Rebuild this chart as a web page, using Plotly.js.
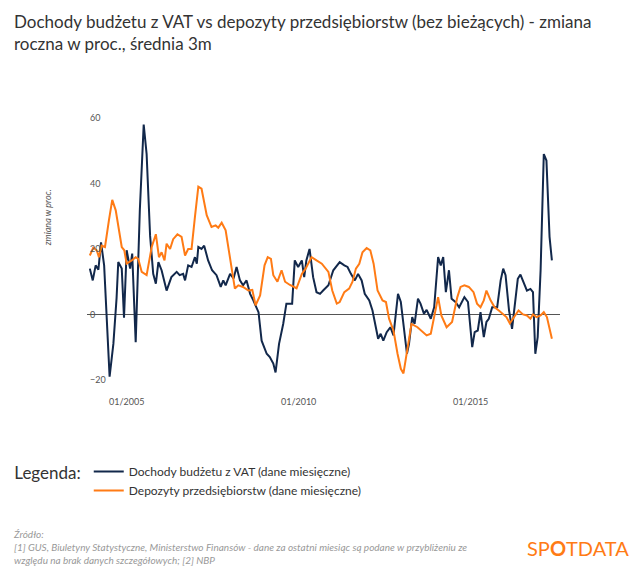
<!DOCTYPE html>
<html>
<head>
<meta charset="utf-8">
<script src="https://cdn.plot.ly/plotly-3.0.1.min.js"></script>
<style>body{margin:0;background:#fff}#chart{width:640px;height:585px}</style>
</head>
<body>
<div id="chart"></div>
<script>
// months counted from 01/2004
var vatMonths = [-0.8,0.2,1.2,2.2,3.1,4.2,6.1,7.4,8.5,9.1,10.3,11.1,12.0,13.2,14.0,15.2,16.7,18.0,19.0,20.2,21.3,22.2,23.1,24.2,26.0,27.7,29.5,30.6,31.8,32.4,33.5,34.7,35.9,36.5,37.0,38.2,39.1,40.5,41.9,43.4,44.9,45.8,46.6,48.1,49.3,50.4,51.6,52.7,53.9,55.1,56.2,58.0,59.1,60.9,62.0,63.2,64.0,65.2,66.7,67.8,69.8,70.7,71.9,73.1,74.0,74.8,75.9,77.1,78.3,79.5,80.6,82.4,84.1,86.4,
  88.0,89.1,90.3,91.7,92.8,94.0,95.1,96.7,97.8,99.0,99.8,100.7,101.6,102.8,104.0,105.1,105.9,106.7,107.7,108.6,109.8,110.6,111.7,112.5,113.7,114.6,115.8,116.7,118.1,119.3,120.7,121.6,122.5,123.4,124.5,125.4,126.8,128.0,129.9,131.1,132.6,133.4,134.6,135.5,136.7,137.6,138.4,139.6,141.3,142.5,143.4,144.2,145.4,146.5,147.7,148.5,149.4,150.6,151.7,152.9,153.8,154.6,155.4,156.4,157.5,158.5,159.6,160.4];
var vatValues = [14,10.4,15,13.7,22,15,-19,-9,5,16,14,-1,19.6,14,18.6,-8.5,32,58,49,24,12.4,9.4,16,13.5,7.3,11.4,13,12,12.4,10.4,15,14.5,17.5,15.5,20.6,20,21,16.5,13.5,12,8.4,10.4,8.9,12.4,11,14.5,10.4,8.9,10.4,6.3,4.3,0.7,-8,-12,-13,-15,-17.7,-9,-2.9,3.3,3.3,16.5,14.5,16.5,11.4,16.5,20,11.4,6.8,6.3,7.3,8.9,13.5,16,
  15,14.5,12.4,10.4,12.4,10.4,6.3,4.3,1.2,-3.9,-7.4,-5.9,-8,-5.4,-3.9,-6.4,-0.8,6.3,3.8,-3.9,-12,-9,-0.8,-2.9,4.8,3.3,0.2,1.4,-1.3,2.2,17.5,15,17.5,6.8,13.5,4.8,3.8,2.2,5.3,3.8,-10,-5.4,-4.9,0.7,-6.9,-2.3,-1.3,2.2,2.2,10.4,14,12,1.2,-4.4,5.3,10.9,12.2,9.4,7.3,7.8,6.8,-12,-6.9,13.5,49,47,23.7,16.5];

var depMonths = [-0.8,0.4,1.6,2.4,3.3,4.5,5.9,7.0,8.2,9.4,10.3,11.2,12.0,13.8,15.2,16.1,17.3,19.0,20.8,22.2,23.3,24.2,25.2,26.0,27.2,28.3,29.8,31.2,32.4,33.5,34.7,35.9,37.0,38.2,40.0,41.7,43.1,44.0,45.2,46.6,48.1,49.8,51.0,52.7,54.5,55.9,57.0,58.6,60.1,61.2,62.4,63.2,64.7,66.1,67.3,69.0,71.3,73.1,74.5,76.6,78.3,80.1,82.4,83.8,85.3,86.4,
  88.0,89.7,90.9,92.0,93.2,94.3,95.8,97.0,98.2,99.6,101.3,102.5,103.6,105.1,106.5,107.7,108.6,109.8,111.4,113.5,115.6,116.7,118.1,119.3,120.7,121.8,123.7,125.6,127.4,128.5,129.9,131.4,133.0,134.3,135.5,136.7,137.6,139.0,140.4,141.9,143.4,144.5,145.7,147.1,148.8,150.3,151.7,152.9,153.8,155.0,156.4,157.5,158.7,160.4];
var depValues = [18,20.4,19.6,17.5,21,20.6,28.8,35,31.8,25.7,20.6,19.6,15.5,16.5,17.5,17,13,12,20.6,24.5,17.5,19,16.5,21.6,20,23,24.5,23.7,18,20,20,29.8,39,38.4,30.3,26.7,27.2,26.5,28,25.7,17.5,7.9,8.9,8.4,7.3,7.5,2.8,5.8,15,17.5,17,12,10,13.5,10,9,8,12.4,14,17.5,16.5,15.5,13,7.3,3.3,3.8,
  6.8,7.9,10,14,15.5,19,20.3,19.6,15.5,7.3,4.3,3.8,-1.3,-4.9,-12,-16.6,-18,-11,-2.9,-3.9,-5.4,-6.4,-5.9,-0.8,5.3,-0.3,-3.9,-2.3,5.3,8.4,8.9,8.4,6.8,3.3,2.2,4.3,7.3,4.3,2.2,1.2,0.2,-0.8,-2.7,-0.8,1.2,0,-0.3,-1.3,0,-0.8,-0.3,0.7,-0.8,-7.4];

function toDate(m) {
  var y = 2004 + Math.floor(m / 12);
  var mm = m - Math.floor(m / 12) * 12;
  var mo = Math.floor(mm);
  var day = 1 + Math.round((mm - mo) * 29);
  return y + '-' + String(mo + 1).padStart(2, '0') + '-' + String(day).padStart(2, '0');
}

var data = [
  {x: vatMonths.map(toDate), y: vatValues, name: 'Dochody budżetu z VAT (dane miesięczne)',
   type: 'scatter', mode: 'lines', line: {color: '#12284b', width: 2}},
  {x: depMonths.map(toDate), y: depValues, name: 'Depozyty przedsiębiorstw (dane miesięczne)',
   type: 'scatter', mode: 'lines', line: {color: '#ff7b15', width: 2}}
];

var layout = {
  width: 640, height: 585,
  font: {family: 'Lato', color: '#444'},
  paper_bgcolor: '#fff', plot_bgcolor: '#fff',
  margin: {l: 85, r: 80, t: 100, b: 190},
  xaxis: {type: 'date', range: [toDate(-1.8), toDate(163.2)], showgrid: false, showline: false, zeroline: false,
          tickvals: ['2005-01-01', '2010-01-01', '2015-01-01'], tickformat: '%m/%Y',
          tickfont: {size: 9, color: '#555'}, ticks: ''},
  yaxis: {range: [-24.6, 65.5], showgrid: false, zeroline: true, zerolinecolor: '#555', zerolinewidth: 1,
          tickvals: [-20, 0, 20, 40, 60], ticklabelposition: 'inside', ticks: '',
          tickfont: {size: 9, color: '#555'}},
  showlegend: true,
  legend: {x: -0.158, y: -0.21, xanchor: 'left', yanchor: 'top', orientation: 'v',
           title: {text: 'Legenda:', side: 'left', font: {size: 17, color: '#333'}},
           font: {size: 12, color: '#333'}, tracegroupgap: 0},
  annotations: [
    {text: 'Dochody budżetu z VAT vs depozyty przedsiębiorstw (bez bieżących) - zmiana<br>roczna w proc., średnia 3m',
     xref: 'paper', yref: 'paper', x: -0.158, y: 1.31, xanchor: 'left', yanchor: 'top', align: 'left',
     showarrow: false, font: {size: 17, color: '#333'}},
    {text: '<i>zmiana w proc.</i>', xref: 'paper', yref: 'paper', x: -0.1, y: 0.6, textangle: -90,
     showarrow: false, font: {size: 9, color: '#555'}},
    {text: '<i>Źródło:<br>[1] GUS, Biuletyny Statystyczne, Ministerstwo Finansów - dane za ostatni miesiąc są podane w przybliżeniu ze<br>względu na brak danych szczegółowych; [2] NBP</i>',
     xref: 'paper', yref: 'paper', x: -0.16, y: -0.445, xanchor: 'left', yanchor: 'top', align: 'left',
     showarrow: false, font: {size: 10, color: '#999'}},
    {text: 'SP<b>O</b>TDATA', xref: 'paper', yref: 'paper', x: 1.15, y: -0.47, xanchor: 'right', yanchor: 'top',
     showarrow: false, font: {size: 20, color: '#ff7b15'}}
  ]
};

Plotly.newPlot('chart', data, layout, {displayModeBar: false});
</script>
</body>
</html>
